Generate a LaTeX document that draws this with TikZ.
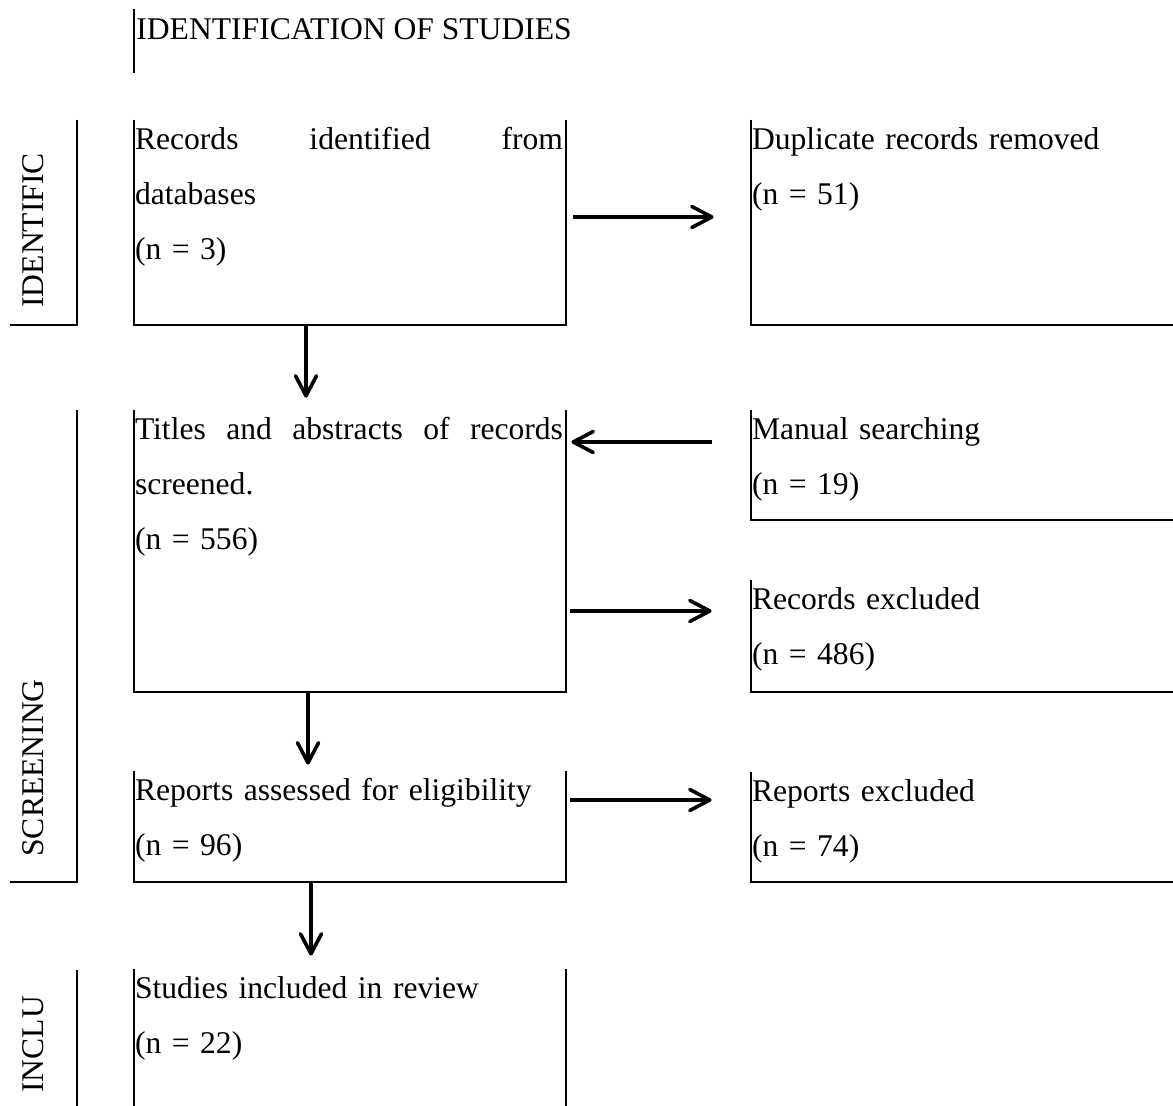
\documentclass[tikz,border=0pt]{standalone}
\usepackage{fontspec}
\setmainfont{Liberation Serif}
\usetikzlibrary{positioning, arrows.meta, fit}

\begin{document}
\begin{tikzpicture}[x=0.5pt, y=-0.5pt,
		every node/.style={font=\fontsize{15.8}{27.5}\selectfont},
		frame/.style={inner sep=0pt, draw=none},
		txt/.style={anchor=base west, inner sep=0pt, align=left, text width=214pt},
		side/.style={anchor=base west, inner sep=0pt, rotate=90},
		edge/.style={line width=1pt},
		arrow/.style={-{Straight Barb[length=10pt, width=10.5pt, line width=1.8pt, round]}, line width=1.7pt},
		]
		\useasboundingbox (0,0) rectangle (1173,1106);
		
		% Kopf
		\node[anchor=base west, inner sep=0pt] (title) at (136,40) {IDENTIFICATION OF STUDIES};
		\draw[edge] (134,9) -- (134,73);
		
		% Rahmen der Kaesten
		\node[frame, fit={(134,120) (566,325)}] (rec) {};
		\node[frame, fit={(751,120) (1176,325)}] (dup) {};
		\node[frame, fit={(134,410) (566,692)}] (scr) {};
		\node[frame, fit={(751,410) (1176,520)}] (man) {};
		\node[frame, fit={(751,580) (1176,692)}] (exc) {};
		\node[frame, fit={(134,771) (566,882)}] (ass) {};
		\node[frame, fit={(751,772) (1176,882)}] (rex) {};
		\node[frame, fit={(134,969) (566,1112)}] (inc) {};
		
		\foreach \b in {rec, scr, ass, inc}
		\draw[edge] (\b.north west) -- (\b.south west) -- (\b.south east) -- (\b.north east);
		\foreach \b in {dup, man, exc, rex}
		\draw[edge] (\b.north west) |- (\b.south east);
		
		% Texte
		\node[txt] (rectxt) at ([shift={(1,30)}]rec.north west)
			{Records\hfill identified\hfill from\\databases\\(n = 3)};
		\node[txt] (duptxt) at ([shift={(1,30)}]dup.north west)
			{Duplicate records removed\\(n = 51)};
		\node[txt] (scrtxt) at ([shift={(1,30)}]scr.north west)
			{Titles\hfill and\hfill abstracts\hfill of\hfill records\\screened.\\(n = 556)};
		\node[txt] (mantxt) at ([shift={(1,30)}]man.north west)
			{Manual searching\\(n = 19)};
		\node[txt] (exctxt) at ([shift={(1,30)}]exc.north west)
			{Records excluded\\(n = 486)};
		\node[txt] (asstxt) at ([shift={(1,30)}]ass.north west)
			{Reports assessed for eligibility\\(n = 96)};
		\node[txt] (rextxt) at ([shift={(1,30)}]rex.north west)
			{Reports excluded\\(n = 74)};
		\node[txt] (inctxt) at ([shift={(1,30)}]inc.north west)
			{Studies included in review\\(n = 22)};
		
		% Phasen links
		\node[side] (lid) at (43,308) {IDENTIFIC};
		\node[side] (lscr) at (43,857) {SCREENING};
		\node[side] (linc) at (43,1093) {INCLU};
		\draw[edge] (77,120) |- (10,325);
		\draw[edge] (77,410) |- (10,882);
		\draw[edge] (77,970) -- (77,1112);
		
		% Pfeile
		\draw[arrow] ([xshift=-22pt]rec.south) -- ([xshift=-22pt, yshift=6pt]scr.north);
		\draw[arrow] ([xshift=-21pt]scr.south) -- ([xshift=-21pt, yshift=3pt]ass.north);
		\draw[arrow] ([xshift=-19.5pt]ass.south) -- ([xshift=-19.5pt, yshift=6.5pt]inc.north);
		
		\coordinate (r1) at ([yshift=2.75pt]dup.west);
		\coordinate (r2) at ([yshift=11.5pt]man.west);
		\coordinate (r3) at ([yshift=12.5pt]exc.west);
		\coordinate (r4) at ([yshift=13.5pt]rex.west);
		\draw[arrow, shorten <=3.5pt, shorten >=18.5pt] (r1 -| rec.east) -- (r1);
		\draw[arrow, shorten <=19.5pt, shorten >=2.5pt] (r2) -- (r2 -| scr.east);
		\draw[arrow, shorten <=2pt, shorten >=19.5pt] (r3 -| scr.east) -- (r3);
		\draw[arrow, shorten <=2pt, shorten >=19.5pt] (r4 -| ass.east) -- (r4);
		
	\end{tikzpicture}
\end{document}
